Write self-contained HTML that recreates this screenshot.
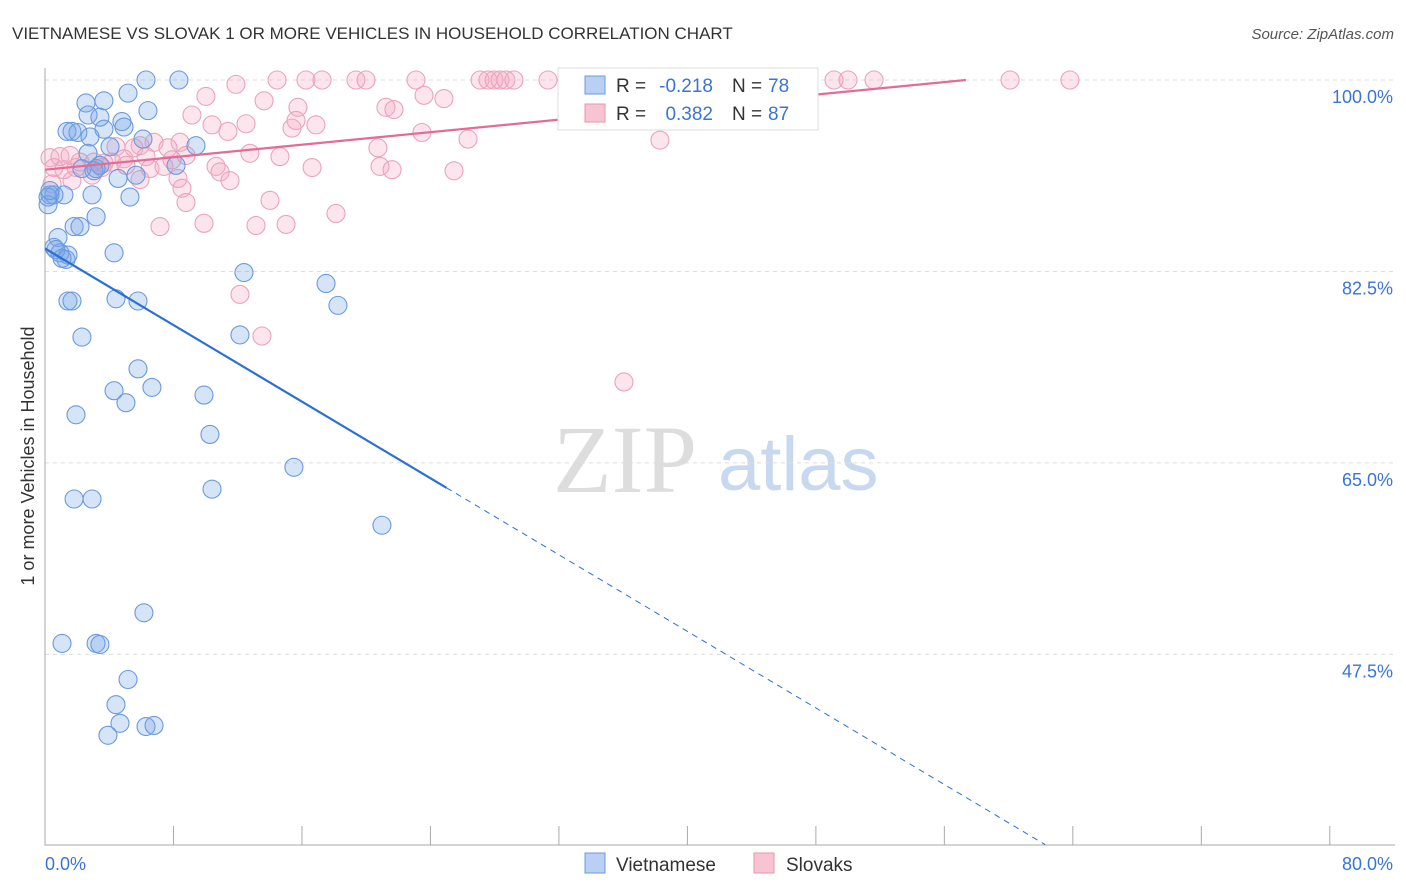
<!DOCTYPE html>
<html><head><meta charset="utf-8"><style>
body{margin:0;background:#fff;font-family:"Liberation Sans",sans-serif;}
svg{display:block}
</style></head><body>
<svg id="c" width="1406" height="892">
<text x="12" y="39" font-size="17" fill="#333">VIETNAMESE VS SLOVAK 1 OR MORE VEHICLES IN HOUSEHOLD CORRELATION CHART</text>
<text x="1394" y="39" font-size="15" fill="#555" font-style="italic" text-anchor="end">Source: ZipAtlas.com</text>
<g>
<text x="553" y="492" font-size="96" fill="#ddd" font-family="Liberation Serif,serif">ZIP</text>
<text x="718" y="490" font-size="76" fill="#c8d8ee">atlas</text>
</g>
<g id="grid"></g>
<g id="axes"></g>
<g id="marks"></g>
<g id="trend"></g>
<g>
<rect x="558" y="68" width="260" height="62" fill="#fff" stroke="#ddd"/>
<rect x="585" y="76" width="20" height="18" fill="#b9d0f2" stroke="#6b9ae0"/>
<rect x="585" y="104" width="20" height="18" fill="#f8c4d4" stroke="#e893ae"/>
<text x="616" y="92" font-size="19" fill="#333">R =</text>
<text x="713" y="92" font-size="19" fill="#3a74d8" text-anchor="end">-0.218</text>
<text x="732" y="92" font-size="19" fill="#333">N =</text>
<text x="768" y="92" font-size="19" fill="#3a74d8">78</text>
<text x="616" y="120" font-size="19" fill="#333">R =</text>
<text x="713" y="120" font-size="19" fill="#3a74d8" text-anchor="end">0.382</text>
<text x="732" y="120" font-size="19" fill="#333">N =</text>
<text x="768" y="120" font-size="19" fill="#3a74d8">87</text>
</g>
<g>
<rect x="585" y="853" width="20" height="20" fill="#b9d0f2" stroke="#6b9ae0"/>
<text x="616" y="871" font-size="19" fill="#333">Vietnamese</text>
<rect x="754" y="853" width="20" height="20" fill="#f8c4d4" stroke="#e893ae"/>
<text x="786" y="871" font-size="19" fill="#333">Slovaks</text>
</g>
<text transform="translate(34,456) rotate(-90)" font-size="18" fill="#333" text-anchor="middle">1 or more Vehicles in Household</text>
</svg>
<script>
const yTicks=[100,82.5,65,47.5];
const yTickLabels=["100.0%","82.5%","65.0%","47.5%"];
const xTicks=[0,8,16,24,32,40,48,56,64,72,80];
const xEndLabels=["0.0%","80.0%"];
const viX=[6.29,8.34,5.17,2.55,3.67,6.41,2.68,3.42,4.79,1.37,1.68,2.05,3.67,2.80,4.92,6.10,2.68,4.05,9.40,3.42,2.30,3.18,3.05,4.55,5.67,8.16,0.31,0.56,0.19,1.18,2.93,5.29,3.18,1.81,2.18,0.81,0.56,0.93,1.31,1.43,4.30,12.39,17.50,1.43,1.68,4.42,5.79,18.24,2.30,12.14,5.79,4.30,6.66,5.04,9.90,1.93,10.27,15.50,10.40,1.81,2.93,20.98,6.16,1.06,3.18,3.42,5.17,4.42,4.67,6.29,6.79,3.92,0.19,0.31,0.68,1.06];
const viY=[100,100,98.8,97.9,98.1,97.2,96.8,96.6,96.2,95.3,95.3,95.2,95.5,94.8,95.7,94.6,93.3,93.9,94.0,92.2,91.9,91.9,91.7,91.0,91.3,92.2,89.5,89.5,88.6,89.5,89.5,89.3,87.5,86.6,86.6,85.6,84.7,84.2,83.6,84.0,84.2,82.4,81.4,79.8,79.8,80.0,79.8,79.4,76.5,76.7,73.6,71.6,71.9,70.5,71.2,69.4,67.6,64.6,62.6,61.7,61.7,59.3,51.3,48.5,48.5,48.4,45.2,42.9,41.2,40.9,41.0,40.1,89.3,89.9,84.5,83.7];
const skX=[11.89,14.45,16.25,17.25,19.36,19.99,23.10,27.09,27.58,27.96,28.33,28.70,29.20,31.32,37.92,49.13,50.00,51.62,60.09,63.82,10.02,13.64,15.75,21.23,21.73,23.60,24.84,9.15,10.40,11.39,12.52,15.38,15.63,16.87,23.47,26.34,38.29,8.41,6.79,5.92,4.42,5.54,7.66,0.31,0.93,1.56,2.18,3.05,4.17,4.92,6.29,8.78,12.76,14.63,20.73,0.56,1.18,1.93,3.67,5.04,6.54,7.41,10.65,10.90,16.63,20.86,21.61,25.47,1.68,5.92,8.28,8.53,11.52,8.78,14.01,18.12,7.16,9.90,13.14,15.01,12.14,13.51,36.05,0.44,2.93,3.55,7.91];
const skY=[99.6,100,100,100,100,100,100,100,100,100,100,100,100,100,100,100,100,100,100,100,98.5,98.1,97.5,97.5,97.3,98.6,98.3,96.8,95.9,95.3,96.0,95.6,96.3,95.9,95.2,94.6,94.5,94.3,94.3,94.0,93.9,93.8,93.8,92.9,93.0,93.1,92.5,92.5,92.5,92.8,93.0,93.1,93.3,93.0,93.8,92.0,91.8,92.0,92.4,92.2,91.9,92.1,92.1,91.6,92.0,92.1,91.8,91.7,90.8,90.9,91.0,90.1,90.8,88.8,89.0,87.8,86.6,86.9,86.7,86.8,80.4,76.6,72.4,90.5,91.3,92.0,92.7];
const viTrend=[84.6,-0.875];
const skTrend=[91.8,0.143];

const NS="http://www.w3.org/2000/svg";
const X=v=>45+v*16.06, Y=v=>80+(100-v)*10.94;
function mk(t,a,p){const e=document.createElementNS(NS,t);for(const k in a)e.setAttribute(k,a[k]);p.appendChild(e);return e;}
const grid=document.getElementById('grid'),axes=document.getElementById('axes'),marks=document.getElementById('marks'),trend=document.getElementById('trend');
yTicks.forEach((t,i)=>{
 const l=mk('line',{x1:45,x2:1395,y1:Y(t),y2:Y(t),stroke:'#ddd','stroke-dasharray':'4,4'},grid);
 
 
 const tx=mk('text',{x:1393,y:Y(t)+23,'font-size':18,fill:'#3a74d8','text-anchor':'end'},axes);
 tx.textContent=yTickLabels[i];
 
 
});
const ax=mk('path',{d:'M45 68V845H1395',stroke:'#aaa',fill:'none'},axes);


xTicks.forEach(t=>{
 const l=mk('line',{x1:X(t),x2:X(t),y1:826,y2:845,stroke:'#aaa'},axes);
 
 
});
[[0,'start',45],[80,'end',1393]].forEach((d,i)=>{
 const tx=mk('text',{x:d[2],y:870,'font-size':18,fill:'#3a74d8','text-anchor':d[1]},axes);
 tx.textContent=xEndLabels[i];
 
 
});
function dots(xs,ys,fill,stroke,name){
 xs.forEach((x,i)=>{
  const c=mk('circle',{cx:X(x),cy:Y(ys[i]),r:9,fill:fill,stroke:stroke,'stroke-width':1.1},marks);
  
  
 });
}
dots(skX,skY,'rgba(244,170,196,0.3)','#eba3ba','slovak-point');
dots(viX,viY,'rgba(120,166,232,0.3)','#6a9ade','vietnamese-point');
const vEnd=25,vEnd2=(30.1-viTrend[0])/viTrend[1];
let l=mk('line',{x1:X(0),y1:Y(viTrend[0]),x2:X(vEnd),y2:Y(viTrend[0]+viTrend[1]*vEnd),stroke:'#2a6fd8','stroke-width':2.2},trend);


l=mk('line',{x1:X(vEnd),y1:Y(viTrend[0]+viTrend[1]*vEnd),x2:X(vEnd2),y2:Y(30.1),stroke:'#2a6fd8','stroke-width':1,'stroke-dasharray':'6,5'},trend);


const sEnd=(100-skTrend[0])/skTrend[1];
l=mk('line',{x1:X(0),y1:Y(skTrend[0]),x2:X(sEnd),y2:Y(100),stroke:'#e46b93','stroke-width':2.2},trend);


</script>
</body></html>
